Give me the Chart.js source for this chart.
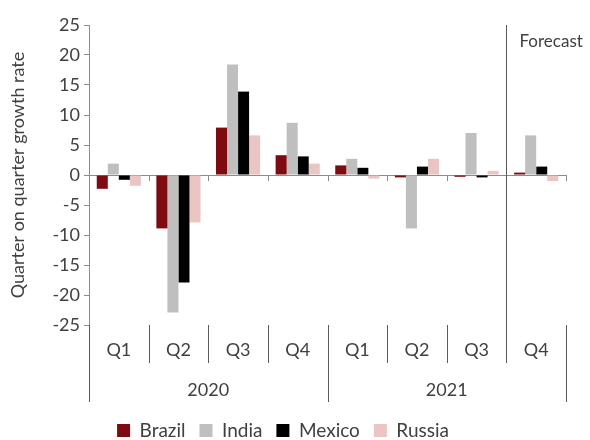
<!DOCTYPE html>
<html>
<head>
<meta charset="utf-8">
<script src="https://cdn.jsdelivr.net/npm/chart.js@4"></script>
<style>
  body { margin: 0; background: #fff; }
  #wrap { width: 590px; height: 440px; }
</style>
</head>
<body>
<div id="wrap"><canvas id="growthChart"></canvas></div>
<script>
// data
const quarters = ["Q1", "Q2", "Q3", "Q4", "Q1", "Q2", "Q3", "Q4"];
const years = ["2020", "2021"];
const quartersPerYear = [4, 4];
const forecastFrom = 7; // index of first forecast quarter

const brazil = [-2.3, -8.9, 7.9, 3.3, 1.6, -0.4, -0.3, 0.4];
const india = [1.9, -22.9, 18.4, 8.7, 2.7, -8.9, 7.0, 6.6];
const mexico = [-0.8, -17.9, 13.9, 3.1, 1.2, 1.4, -0.4, 1.4];
const russia = [-1.8, -7.9, 6.6, 1.9, -0.6, 2.7, 0.7, -1.0];

const axisGrey = "#8c8c8c";
const textGrey = "#404040";
const fontFamily = "Lato, 'Open Sans', sans-serif";

// draws the zero line, the two-level category axis and the forecast divider
const categoryAxisPlugin = {
  id: "categoryAxis",
  beforeDatasetsDraw(chart) {
    const { ctx, chartArea, scales } = chart;
    const x = scales.x;
    const y0 = scales.y.getPixelForValue(0);
    const step = x.getPixelForValue(1) - x.getPixelForValue(0);
    const edge = (i) => x.getPixelForValue(0) - step / 2 + i * step;

    ctx.save();
    ctx.strokeStyle = axisGrey;
    ctx.lineWidth = 1;

    // zero line with tick marks
    ctx.beginPath();
    ctx.moveTo(chartArea.left, y0 + 0.5);
    ctx.lineTo(chartArea.right, y0 + 0.5);
    for (let i = 1; i <= quarters.length; i++) {
      const px = Math.round(edge(i)) + 0.5;
      ctx.moveTo(px, y0);
      ctx.lineTo(px, y0 + 6);
    }
    ctx.stroke();

    // separators below the plot
    const yearEdges = [0];
    quartersPerYear.forEach((n) => yearEdges.push(yearEdges[yearEdges.length - 1] + n));
    ctx.beginPath();
    for (let i = 0; i <= quarters.length; i++) {
      const px = Math.round(edge(i)) + 0.5;
      const len = yearEdges.includes(i) ? 77 : 38;
      ctx.moveTo(px, chartArea.bottom);
      ctx.lineTo(px, chartArea.bottom + len);
    }
    // forecast divider
    const fx = Math.round(edge(forecastFrom)) + 0.5;
    ctx.moveTo(fx, chartArea.top);
    ctx.lineTo(fx, chartArea.bottom);
    ctx.strokeStyle = "#595959";
    ctx.stroke();

    // year labels
    ctx.fillStyle = textGrey;
    ctx.font = "18px " + fontFamily;
    ctx.textAlign = "center";
    ctx.textBaseline = "middle";
    years.forEach((yr, k) => {
      const mid = (edge(yearEdges[k]) + edge(yearEdges[k + 1])) / 2;
      ctx.fillText(yr, mid, chartArea.bottom + 65);
    });

    ctx.textAlign = "left";
    ctx.font = "17px " + fontFamily;
    ctx.fillText("Forecast", fx + 13, chartArea.top + 17);
    ctx.restore();
  },
};

const series = [
  { label: "Brazil", data: brazil, color: "#7f0a10" },
  { label: "India", data: india, color: "#bfbfbf" },
  { label: "Mexico", data: mexico, color: "#000000" },
  { label: "Russia", data: russia, color: "#ebc5c1" },
];

new Chart(document.getElementById("growthChart"), {
  type: "bar",
  data: {
    labels: quarters,
    datasets: series.map((s) => ({
      label: s.label,
      data: s.data,
      backgroundColor: s.color,
      borderWidth: 0,
      categoryPercentage: 0.74,
      barPercentage: 1.0,
    })),
  },
  options: {
    responsive: true,
    maintainAspectRatio: false,
    animation: false,
    layout: { padding: { top: 25, right: 24, bottom: 0, left: 0 } },
    plugins: {
      tooltip: { enabled: false },
      legend: {
        position: "bottom",
        maxHeight: 33,
        labels: {
          color: textGrey,
          font: { family: fontFamily, size: 19 },
          boxWidth: 13,
          boxHeight: 13,
          padding: 14,
        },
      },
    },
    scales: {
      x: {
        grid: { display: false, drawTicks: false },
        border: { display: false },
        ticks: {
          color: textGrey,
          font: { family: fontFamily, size: 18 },
          padding: 14,
        },
        afterFit: (scale) => {
          scale.height = 82;
        },
      },
      y: {
        min: -25,
        max: 25,
        ticks: {
          stepSize: 5,
          color: textGrey,
          font: { family: fontFamily, size: 18 },
          padding: 4,
        },
        grid: {
          drawOnChartArea: false,
          tickLength: 5,
          color: axisGrey,
        },
        border: { color: axisGrey },
        title: {
          display: true,
          text: "Quarter on quarter growth rate",
          color: textGrey,
          font: { family: fontFamily, size: 18 },
          padding: { top: 7, bottom: 0 },
        },
        afterFit: (scale) => {
          scale.width = 89;
        },
      },
    },
  },
  plugins: [categoryAxisPlugin],
});
</script>
</body>
</html>
